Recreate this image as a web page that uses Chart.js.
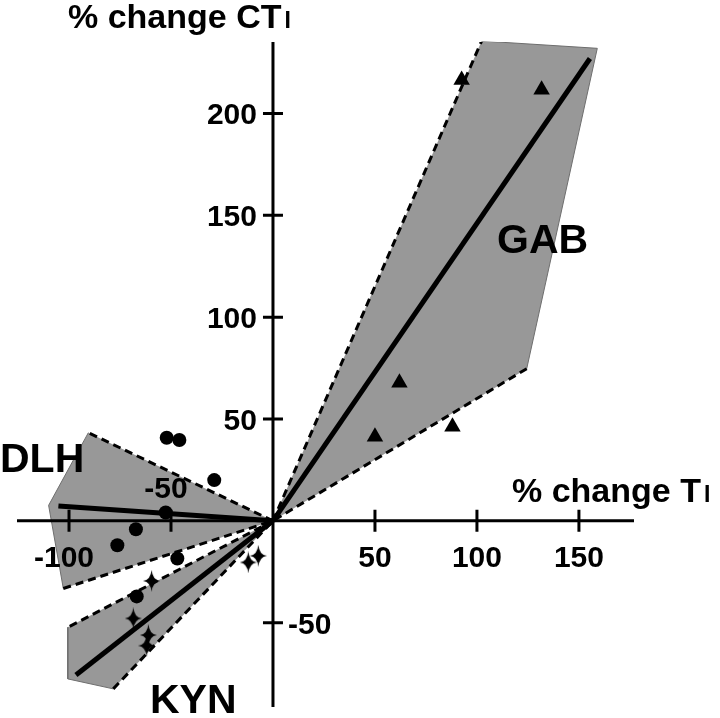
<!DOCTYPE html>
<html>
<head>
<meta charset="utf-8">
<script src="https://cdn.jsdelivr.net/npm/chart.js@4"></script>
<style>
  html, body { margin: 0; padding: 0; background: #fff; }
  canvas { display: block; }
</style>
</head>
<body>
<canvas id="chart" width="720" height="718"></canvas>
<script>
// tick values on both axes
const xTicks = [-100, -50, 50, 100, 150];
const yTicks = [-50, 50, 100, 150, 200];

// GAB (triangles)
const gabX = [50, 62, 88, 92.5, 131.7];
const gabY = [41.3, 67.8, 46.2, 216.5, 211.6];
const gabHullX = [0, 102.3, 159, 124.4, 0];
const gabHullY = [0, 235.6, 232, 74.7, 0];
const gabFitX = [0, 155.4];
const gabFitY = [0, 227];

// DLH (circles)
const dlhX = [-52.1, -45.9, -28.8, -52.6, -67.2, -76.3, -46.9, -66.8];
const dlhY = [40.8, 39.7, 20, 4.1, -4.1, -12, -18.5, -37.1];
const dlhHullX = [0, -90.5, -110, -102.8, 0];
const dlhHullY = [0, 43.3, 7.6, -33.2, 0];
const dlhFitX = [-105.2, 0];
const dlhFitY = [7.3, 0];

// KYN (stars)
const kynX = [-59.5, -68.5, -61.1, -61.9, -12.1, -7.2];
const kynY = [-29.5, -47.9, -56.1, -61.3, -20.4, -17.2];
const kynHullX = [0, -100.6, -100.6, -78.3, 0];
const kynHullY = [0, -52.3, -77.6, -82.5, 0];
const kynFitX = [-96.6, 0];
const kynFitY = [-75.7, 0];

const pts = (xs, ys) => xs.map((x, i) => ({ x: x, y: ys[i] }));

// four pointed star marker
const star = document.createElement('canvas');
star.width = 17; star.height = 22;
(function () {
  const c = star.getContext('2d');
  const cx = 8.5, cy = 11, k = 1;
  c.fillStyle = '#000';
  c.beginPath();
  c.moveTo(cx, 0);
  c.quadraticCurveTo(cx + k, cy - k, 17, cy);
  c.quadraticCurveTo(cx + k, cy + k, cx, 22);
  c.quadraticCurveTo(cx - k, cy + k, 0, cy);
  c.quadraticCurveTo(cx - k, cy - k, cx, 0);
  c.closePath();
  c.fill();
})();

const FILL = '#989898';
function hull(xs, ys) {
  const last = xs.length - 2;
  const edge = ctx => ctx.p0DataIndex === 0 || ctx.p0DataIndex === last;
  return {
    data: pts(xs, ys),
    showLine: true,
    fill: false,
    isHull: true,
    borderColor: '#000',
    borderWidth: 3,
    pointRadius: 0,
    order: 3,
    segment: {
      borderDash: ctx => edge(ctx) ? [8, 5] : undefined,
      borderColor: ctx => edge(ctx) ? '#000' : '#6e6e6e',
      borderWidth: ctx => edge(ctx) ? 3 : 1
    }
  };
}
function fit(xs, ys) {
  return {
    data: pts(xs, ys),
    showLine: true,
    fill: false,
    borderColor: '#000',
    borderWidth: 5,
    pointRadius: 0,
    order: 2
  };
}

// fills the hull shapes from the laid out points, under everything else
const hullFill = {
  id: 'hullFill',
  beforeDatasetsDraw(chart) {
    const c = chart.ctx;
    c.save();
    c.fillStyle = FILL;
    chart.data.datasets.forEach((ds, i) => {
      if (!ds.isHull) return;
      const els = chart.getDatasetMeta(i).data;
      c.beginPath();
      els.forEach((p, j) => j ? c.lineTo(p.x, p.y) : c.moveTo(p.x, p.y));
      c.closePath();
      c.fill();
    });
    c.restore();
  }
};

const axesPlugin = {
  id: 'axes',
  afterDatasetsDraw(chart) {
    const c = chart.ctx, a = chart.chartArea;
    const xs = chart.scales.x, ys = chart.scales.y;
    const x0 = xs.getPixelForValue(0), y0 = ys.getPixelForValue(0);
    c.save();
    c.strokeStyle = '#000';
    c.lineWidth = 3;
    c.beginPath();
    c.moveTo(a.left, y0); c.lineTo(a.right, y0);
    c.moveTo(x0, a.top); c.lineTo(x0, a.bottom);
    xTicks.forEach(v => {
      const px = xs.getPixelForValue(v);
      c.moveTo(px, y0 - 11); c.lineTo(px, y0 + 11);
    });
    yTicks.forEach(v => {
      const py = ys.getPixelForValue(v);
      c.moveTo(x0 - 10, py); c.lineTo(x0 + 10, py);
    });
    c.stroke();

    c.fillStyle = '#000';
    c.font = 'bold 30px "Liberation Sans", Arial, sans-serif';
    c.textBaseline = 'alphabetic';
    c.textAlign = 'left';
    xTicks.forEach(v => {
      const px = xs.getPixelForValue(v);
      const s = String(v);
      const digits = s.replace('-', '');
      const dw = c.measureText(digits).width;
      const fw = c.measureText(s).width;
      const left = px - dw / 2 - (fw - dw);
      const y = v === -50 ? y0 - 23 : y0 + 46;
      c.fillText(s, left, y);
    });
    yTicks.forEach(v => {
      const py = ys.getPixelForValue(v);
      if (v < 0) {
        c.textAlign = 'left';
        c.fillText(String(v), x0 + 15, py + 11);
      } else {
        c.textAlign = 'right';
        c.fillText(String(v), x0 - 16, py + 11);
      }
    });

    // axis titles
    c.textAlign = 'left';
    c.font = 'bold 34px "Liberation Sans", Arial, sans-serif';
    c.fillText('% change CT', 68, 28);
    const w = c.measureText('% change CT').width;
    c.fillText('% change T', 512, 502);
    const w2 = c.measureText('% change T').width;
    c.font = 'bold 23px "Liberation Sans", Arial, sans-serif';
    c.fillText('I', 68 + w + 3, 28);
    c.fillText('I', 512 + w2 + 3, 502);

    // group labels
    c.font = 'bold 41px "Liberation Sans", Arial, sans-serif';
    c.fillText('DLH', 0, 472);
    c.fillText('GAB', 497, 253);
    c.fillText('KYN', 150, 713);
    c.restore();
  }
};

new Chart(document.getElementById('chart').getContext('2d'), {
  type: 'scatter',
  data: {
    datasets: [
      hull(gabHullX, gabHullY),
      hull(dlhHullX, dlhHullY),
      hull(kynHullX, kynHullY),
      fit(gabFitX, gabFitY),
      fit(dlhFitX, dlhFitY),
      fit(kynFitX, kynFitY),
      {
        data: pts(dlhX, dlhY),
        pointStyle: 'circle',
        pointRadius: 7,
        backgroundColor: '#000',
        borderColor: '#000',
        borderWidth: 0,
        order: 1
      },
      {
        data: pts(gabX, gabY),
        pointStyle: 'triangle',
        pointRadius: 9.5,
        backgroundColor: '#000',
        borderColor: '#000',
        borderWidth: 0,
        order: 1
      },
      {
        data: pts(kynX, kynY),
        pointStyle: star,
        pointRadius: 10,
        backgroundColor: '#000',
        order: 1
      }
    ]
  },
  options: {
    responsive: false,
    animation: false,
    events: [],
    devicePixelRatio: 1,
    layout: { padding: { left: 17, right: 86, top: 42, bottom: 10 } },
    plugins: { legend: { display: false }, tooltip: { enabled: false } },
    scales: {
      x: { type: 'linear', display: false, min: -125.5, max: 177 },
      y: { type: 'linear', display: false, min: -91.4, max: 235.1 }
    }
  },
  plugins: [hullFill, axesPlugin]
});
</script>
</body>
</html>
